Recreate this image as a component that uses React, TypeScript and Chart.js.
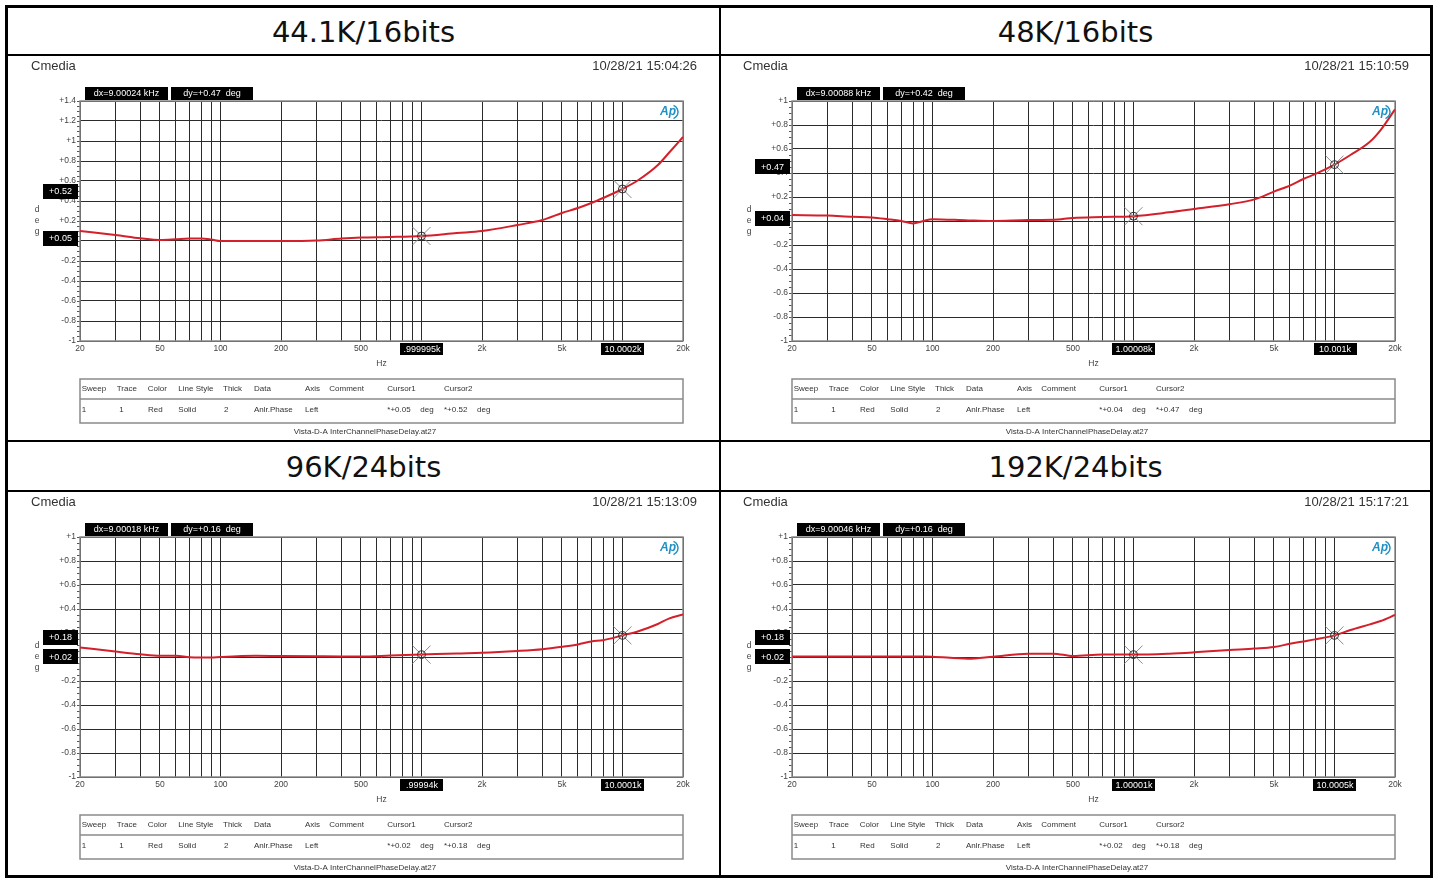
import React, { useEffect, useRef } from 'react';
import { Chart, registerables } from 'chart.js';

Chart.register(...registerables);

// ---------- data ----------
const FREQ_HZ = [20, 30, 40, 50, 60, 70, 80, 90, 100, 150, 200, 300, 400, 500, 700, 1000, 1500, 2000, 3000, 4000, 5000, 6000, 7000, 8000, 10000, 12000, 15000, 17000, 20000];

const PHASE_44K = [0.10, 0.06, 0.027, 0.01, 0.017, 0.025, 0.025, 0.015, 0.0, 0.0, 0.0, 0.005, 0.025, 0.035, 0.04, 0.05, 0.08, 0.10, 0.16, 0.21, 0.28, 0.33, 0.38, 0.43, 0.52, 0.61, 0.76, 0.88, 1.04];
const PHASE_48K = [0.05, 0.045, 0.035, 0.03, 0.015, 0.0, -0.02, 0.0, 0.015, 0.005, 0.0, 0.008, 0.01, 0.025, 0.033, 0.04, 0.072, 0.10, 0.14, 0.18, 0.245, 0.295, 0.35, 0.39, 0.47, 0.55, 0.66, 0.76, 0.93];
const PHASE_96K = [0.08, 0.045, 0.022, 0.01, 0.01, -0.003, -0.005, -0.005, 0.0, 0.01, 0.008, 0.006, 0.005, 0.005, 0.012, 0.02, 0.03, 0.035, 0.05, 0.065, 0.085, 0.105, 0.13, 0.14, 0.18, 0.215, 0.275, 0.32, 0.355];
const PHASE_192K = [0.005, 0.005, 0.005, 0.005, 0.005, 0.005, 0.005, 0.005, 0.003, -0.014, 0.003, 0.028, 0.028, 0.008, 0.02, 0.02, 0.028, 0.039, 0.058, 0.07, 0.083, 0.11, 0.13, 0.147, 0.18, 0.225, 0.272, 0.30, 0.35];

const PHASE_SERIES = [PHASE_44K, PHASE_48K, PHASE_96K, PHASE_192K];

const X_GRID_HZ = [20, 30, 40, 50, 60, 70, 80, 90, 100, 200, 300, 400, 500, 600, 700, 800, 900, 1000, 2000, 3000, 4000, 5000, 6000, 7000, 8000, 9000, 10000, 20000];
const X_LABEL_HZ = [20, 50, 100, 200, 500, 1000, 2000, 5000, 10000, 20000];
const X_LABEL_TEXT = ['20', '50', '100', '200', '500', '1k', '2k', '5k', '10k', '20k'];

const Y_TICKS_44K = [1.4, 1.2, 1, 0.8, 0.6, 0.4, 0.2, 0, -0.2, -0.4, -0.6, -0.8, -1];
const Y_TICKS_STD = [1, 0.8, 0.6, 0.4, 0.2, 0, -0.2, -0.4, -0.6, -0.8, -1];
const Y_TICK_SETS = [Y_TICKS_44K, Y_TICKS_STD, Y_TICKS_STD, Y_TICKS_STD];

const PANEL_TITLES = ['44.1K/16bits', '48K/16bits', '96K/24bits', '192K/24bits'];
const PANEL_DATES = ['10/28/21 15:04:26', '10/28/21 15:10:59', '10/28/21 15:13:09', '10/28/21 15:17:21'];
const DX_LABELS = ['dx=9.00024 kHz', 'dx=9.00088 kHz', 'dx=9.00018 kHz', 'dx=9.00046 kHz'];
const DY_LABELS = ['dy=+0.47  deg', 'dy=+0.42  deg', 'dy=+0.16  deg', 'dy=+0.16  deg'];
const CURSOR1_HZ = [999.995, 1000.08, 999.94, 1000.01];
const CURSOR2_HZ = [10000.2, 10001, 10000.1, 10000.5];
const CURSOR1_FREQ_LABELS = ['.999995k', '1.00008k', '.99994k', '1.00001k'];
const CURSOR2_FREQ_LABELS = ['10.0002k', '10.001k', '10.0001k', '10.0005k'];
const CURSOR1_DEG = [0.05, 0.04, 0.02, 0.02];
const CURSOR2_DEG = [0.52, 0.47, 0.18, 0.18];

const TABLE_HEADERS = ['Sweep', 'Trace', 'Color', 'Line Style', 'Thick', 'Data', 'Axis', 'Comment', 'Cursor1', 'Cursor2'];
const TABLE_ROW = ['1', '1', 'Red', 'Solid', '2', 'Anlr.Phase', 'Left', '', '', ''];
const FOOTER_TEXT = 'Vista-D-A InterChannelPhaseDelay.at27';

// ---------- layout ----------
const W = 1437;
const H = 879;
const PANEL_W = 712;
const PANEL_H = 384;
const FONT = '"Liberation Sans", Arial, sans-serif';
const GRID = '#2b2b2b';

const HEADER_X = [1.7, 36.7, 67.7, 98.3, 143, 174, 225, 249.3, 307.3, 364];
const ROW_X = [1.7, 39.3, 68, 98.3, 144, 174, 225, 249.3, 307.3, 364];

function fmtDeg(v: number) {
  const r = Math.round(v * 100) / 100;
  return (r > 0 ? '+' : '') + r.toFixed(2);
}

function fmtTick(v: number) {
  const r = Math.round(v * 10) / 10;
  if (r === 0) return '0';
  return (r > 0 ? '+' : '') + String(r);
}

function blackBox(ctx: CanvasRenderingContext2D, x: number, y: number, w: number, h: number, text: string) {
  ctx.fillStyle = '#000';
  ctx.fillRect(Math.round(x), Math.round(y), Math.round(w), Math.round(h));
  ctx.fillStyle = '#fff';
  ctx.font = '9px ' + FONT;
  ctx.textAlign = 'center';
  ctx.textBaseline = 'middle';
  ctx.fillText(text, x + w / 2, y + h / 2 + 0.5);
}

function drawCursor(ctx: CanvasRenderingContext2D, x: number, y: number) {
  ctx.save();
  ctx.strokeStyle = '#8c8c8c';
  ctx.lineWidth = 1;
  ctx.beginPath();
  ctx.moveTo(x - 9, y - 9);
  ctx.lineTo(x + 9, y + 9);
  ctx.moveTo(x + 9, y - 9);
  ctx.lineTo(x - 9, y + 9);
  ctx.stroke();
  ctx.strokeStyle = '#333';
  ctx.beginPath();
  ctx.arc(x, y, 4, 0, Math.PI * 2);
  ctx.stroke();
  ctx.restore();
}

function makeOverlay(p: number) {
  return {
    id: 'apOverlay' + p,
    beforeDatasetsDraw(chart: any) {
      const ctx: CanvasRenderingContext2D = chart.ctx;
      const a = chart.chartArea;
      const ys = chart.scales.y;
      ctx.save();
      ctx.strokeStyle = '#555';
      ctx.lineWidth = 1;
      const steps = Math.round((ys.max - ys.min) / 0.05);
      for (let i = 0; i <= steps; i++) {
        const v = ys.min + i * 0.05;
        const y = Math.round(ys.getPixelForValue(v)) + 0.5;
        ctx.beginPath();
        ctx.moveTo(a.left - 3, y);
        ctx.lineTo(a.left, y);
        ctx.stroke();
      }
      ctx.strokeStyle = '#8a8a8a';
      ctx.lineWidth = 1.5;
      ctx.strokeRect(a.left, a.top, a.right - a.left, a.bottom - a.top);
      ctx.restore();
    },
    afterDraw(chart: any) {
      const ctx: CanvasRenderingContext2D = chart.ctx;
      const a = chart.chartArea;
      const xs = chart.scales.x;
      const ys = chart.scales.y;
      const cw = chart.width;
      ctx.save();

      // header texts
      ctx.fillStyle = '#333';
      ctx.font = '13px ' + FONT;
      ctx.textBaseline = 'middle';
      ctx.textAlign = 'left';
      ctx.fillText('Cmedia', 23, 10);
      ctx.textAlign = 'right';
      ctx.fillText(PANEL_DATES[p], 689, 10);

      // cursors
      const cx1 = xs.getPixelForValue(CURSOR1_HZ[p]);
      const cy1 = ys.getPixelForValue(CURSOR1_DEG[p]);
      const cx2 = xs.getPixelForValue(CURSOR2_HZ[p]);
      const cy2 = ys.getPixelForValue(CURSOR2_DEG[p]);
      drawCursor(ctx, cx1, cy1);
      drawCursor(ctx, cx2, cy2);

      // top delta boxes
      blackBox(ctx, a.left + 5, a.top - 14, 83, 13, DX_LABELS[p]);
      blackBox(ctx, a.left + 91, a.top - 14, 82, 13, DY_LABELS[p]);

      // left value boxes
      blackBox(ctx, a.left - 37, cy2 - 5.5, 35, 15, fmtDeg(CURSOR2_DEG[p]));
      blackBox(ctx, a.left - 37, cy1 - 5.5, 35, 15, fmtDeg(CURSOR1_DEG[p]));

      // bottom freq boxes
      blackBox(ctx, cx1 - 21, a.bottom + 2, 43, 12, CURSOR1_FREQ_LABELS[p]);
      blackBox(ctx, cx2 - 21, a.bottom + 2, 43, 12, CURSOR2_FREQ_LABELS[p]);

      // axis titles
      ctx.fillStyle = '#444';
      ctx.font = '8.5px ' + FONT;
      ctx.textAlign = 'center';
      ctx.textBaseline = 'middle';
      ctx.fillText('Hz', (a.left + a.right) / 2, a.bottom + 23);
      const midY = (a.top + a.bottom) / 2;
      ctx.fillText('d', a.left - 43, midY - 11);
      ctx.fillText('e', a.left - 43, midY);
      ctx.fillText('g', a.left - 43, midY + 11);

      // Ap logo
      ctx.fillStyle = '#1f8fc4';
      ctx.strokeStyle = '#1f8fc4';
      ctx.font = 'italic bold 12px ' + FONT;
      ctx.textAlign = 'right';
      ctx.fillText('Ap', a.right - 7, a.top + 11);
      ctx.lineWidth = 1.4;
      ctx.beginPath();
      ctx.arc(a.right - 12, a.top + 11, 7, -Math.PI / 2.6, Math.PI / 2.6);
      ctx.stroke();

      // legend table
      const tTop = a.bottom + 38;
      const tMid = a.bottom + 58;
      const tBot = a.bottom + 82;
      ctx.strokeStyle = '#8a8a8a';
      ctx.lineWidth = 1.5;
      ctx.strokeRect(a.left, tTop, a.right - a.left, tBot - tTop);
      ctx.beginPath();
      ctx.moveTo(a.left, tMid);
      ctx.lineTo(a.right, tMid);
      ctx.stroke();
      ctx.fillStyle = '#333';
      ctx.font = '8px ' + FONT;
      ctx.textAlign = 'left';
      ctx.textBaseline = 'middle';
      const rowY = (tMid + tBot) / 2 - 1;
      TABLE_HEADERS.forEach((h, i) => ctx.fillText(h, a.left + HEADER_X[i], (tTop + tMid) / 2));
      TABLE_ROW.forEach((t, i) => { if (t) ctx.fillText(t, a.left + ROW_X[i], rowY); });
      ctx.fillText('*' + fmtDeg(CURSOR1_DEG[p]), a.left + ROW_X[8], rowY);
      ctx.fillText('deg', a.left + ROW_X[8] + 33, rowY);
      ctx.fillText('*' + fmtDeg(CURSOR2_DEG[p]), a.left + ROW_X[9], rowY);
      ctx.fillText('deg', a.left + ROW_X[9] + 33, rowY);

      // footer
      ctx.textAlign = 'center';
      ctx.fillText(FOOTER_TEXT, cw / 2 + 1, a.bottom + 91);
      ctx.restore();
    },
  };
}

function Panel({ p }: { p: number }) {
  const ref = useRef<HTMLCanvasElement | null>(null);
  useEffect(() => {
    if (!ref.current) return;
    const yTicks = Y_TICK_SETS[p];
    const points = FREQ_HZ.map((f, i) => ({ x: f, y: PHASE_SERIES[p][i] }));
    const chart = new Chart(ref.current, {
      type: 'line',
      data: {
        datasets: [
          {
            data: points,
            borderColor: '#d3202a',
            borderWidth: 2,
            pointRadius: 0,
            cubicInterpolationMode: 'monotone',
            fill: false,
          },
        ],
      },
      options: {
        animation: false,
        responsive: false,
        events: [],
        layout: { padding: { left: 42, top: 45, right: 37, bottom: 79 } },
        plugins: { legend: { display: false }, tooltip: { enabled: false }, title: { display: false } },
        scales: {
          x: {
            type: 'logarithmic',
            min: 20,
            max: 20000,
            afterBuildTicks: (scale: any) => {
              scale.ticks = X_GRID_HZ.map((v) => ({ value: v }));
            },
            afterFit: (scale: any) => {
              scale.height = 20;
            },
            ticks: {
              autoSkip: false,
              maxRotation: 0,
              padding: 3,
              color: '#444',
              font: { family: FONT, size: 8.5 },
              callback: (value: any) => {
                const idx = X_LABEL_HZ.indexOf(Number(value));
                return idx >= 0 ? X_LABEL_TEXT[idx] : '';
              },
            },
            grid: { color: GRID, lineWidth: 1, drawTicks: false },
            border: { display: false },
          },
          y: {
            type: 'linear',
            min: yTicks[yTicks.length - 1],
            max: yTicks[0],
            afterBuildTicks: (scale: any) => {
              scale.ticks = yTicks.map((v) => ({ value: v }));
            },
            afterFit: (scale: any) => {
              scale.width = 30;
            },
            ticks: {
              autoSkip: false,
              padding: 4,
              color: '#444',
              font: { family: FONT, size: 8.5 },
              callback: (value: any) => fmtTick(Number(value)),
            },
            grid: { color: GRID, lineWidth: 1, drawTicks: false },
            border: { display: false },
          },
        },
      } as any,
      plugins: [makeOverlay(p)],
    });
    return () => chart.destroy();
  }, [p]);
  const col = p % 2;
  const row = Math.floor(p / 2);
  return (
    <canvas
      ref={ref}
      width={PANEL_W}
      height={PANEL_H}
      style={{ position: 'absolute', left: 8 + 712 * col, top: 56 + 436 * row, width: PANEL_W, height: PANEL_H }}
    />
  );
}

function Line({ x, y, w, h }: { x: number; y: number; w: number; h: number }) {
  return <div style={{ position: 'absolute', left: x, top: y, width: w, height: h, background: '#000' }} />;
}

export default function App() {
  const titleStyle = (left: number, top: number, width: number): React.CSSProperties => ({
    position: 'absolute',
    left,
    top,
    width,
    height: 46,
    lineHeight: '46px',
    textAlign: 'center',
    fontFamily: '"DejaVu Sans", Verdana, sans-serif',
    fontSize: 29,
    color: '#111',
  });
  return (
    <div style={{ position: 'absolute', left: 0, top: 0, width: W, height: H, background: '#fff', overflow: 'hidden' }}>
      <div style={titleStyle(8, 9, 711)}>{PANEL_TITLES[0]}</div>
      <div style={titleStyle(721, 9, 709)}>{PANEL_TITLES[1]}</div>
      <div style={titleStyle(8, 444, 711)}>{PANEL_TITLES[2]}</div>
      <div style={titleStyle(721, 444, 709)}>{PANEL_TITLES[3]}</div>
      {[0, 1, 2, 3].map((p) => (
        <Panel key={p} p={p} />
      ))}
      <Line x={5} y={5} w={1428} h={3} />
      <Line x={5} y={875} w={1428} h={3} />
      <Line x={5} y={5} w={3} h={873} />
      <Line x={1430} y={5} w={3} h={873} />
      <Line x={719} y={5} w={2} h={873} />
      <Line x={5} y={54} w={1428} h={2} />
      <Line x={5} y={440} w={1428} h={2} />
      <Line x={5} y={490} w={1428} h={2} />
    </div>
  );
}
